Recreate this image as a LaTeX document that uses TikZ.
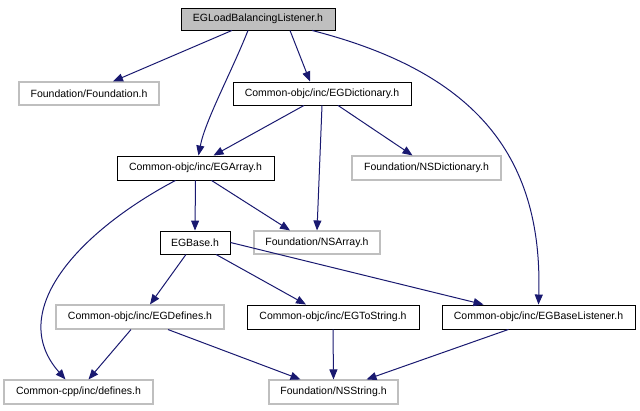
\documentclass[tikz,border=0pt]{standalone}
\usepackage{fontspec}
\setmainfont{Liberation Sans}
\usepackage{tikz}
\usetikzlibrary{arrows.meta, positioning, calc}

\definecolor{edgeblue}{HTML}{191970}
\definecolor{boxgray}{HTML}{BFBFBF}

\begin{document}
\begin{tikzpicture}[x=1pt, y=1pt,
	hfile/.style={draw=black, line width=0.9pt, inner sep=0pt, minimum height=23pt,
		font=\fontsize{10.5}{12}\selectfont},
	extfile/.style={hfile, draw=boxgray, line width=1.1pt},
	rootfile/.style={hfile, fill=boxgray},
	dep/.style={draw=edgeblue, line width=1pt, -{Triangle[length=10pt,width=8pt]}}]
					\useasboundingbox (0,0) rectangle (640,411);
					
					% Nodo principale
					\node[rootfile, minimum width=154pt, minimum height=22pt] (LBL) at (258,392) {EGLoadBalancingListener.h};
					
					% Primo livello
					\node[extfile, minimum width=140pt] (Fnd) at (89,317.5) {Foundation/Foundation.h};
					\node[hfile, minimum width=178pt] (Dict) at (322,317.5) {Common-objc/inc/EGDictionary.h};
					
					% Secondo livello
					\node[hfile, minimum width=157pt, minimum height=24pt] (Arr) at (195.5,243) {Common-objc/inc/EGArray.h};
					\node[extfile, minimum width=149pt, minimum height=24pt] (NSDict) at (426.5,243) {Foundation/NSDictionary.h};
					
					% Terzo livello
					\node[hfile, minimum width=70pt] (Base) at (195,168.5) {EGBase.h};
					\node[extfile, minimum width=126pt] (NSArr) at (317,168.5) {Foundation/NSArray.h};
					
					% Quarto livello
					\node[extfile, minimum width=168pt, minimum height=24pt] (Def) at (140,94) {Common-objc/inc/EGDefines.h};
					\node[hfile, minimum width=172pt, minimum height=24pt] (ToStr) at (333,94) {Common-objc/inc/EGToString.h};
					\node[hfile, minimum width=193pt, minimum height=24pt] (BLis) at (538.5,94) {Common-objc/inc/EGBaseListener.h};
					
					% Foglie
					\node[extfile, minimum width=149pt, minimum height=24pt] (CDef) at (78.5,19) {Common-cpp/inc/defines.h};
					\node[extfile, minimum width=129pt, minimum height=24pt] (NSStr) at (333.5,19) {Foundation/NSString.h};
					
					% Linee di connessione
					\draw[dep] ([xshift=-26pt]LBL.south) -- ([xshift=24pt]Fnd.north);
					\draw[dep] ([xshift=32pt]LBL.south) -- ([xshift=-12pt]Dict.north);
					\draw[dep] ([xshift=-10pt]LBL.south) .. controls (232,340) and (205,290) .. ([xshift=3pt]Arr.north);
					\draw[dep] ([xshift=54pt]LBL.south) .. controls (470,340) and (543,260) .. (BLis.north);
					
					\draw[dep] ([xshift=-18pt]Dict.south) -- ([xshift=18pt]Arr.north);
					\draw[dep] (Dict.south) -- (NSArr.north);
					\draw[dep] ([xshift=16pt]Dict.south) -- ([xshift=-14pt]NSDict.north);
					
					\draw[dep] (Arr.south) -- (Base.north);
					\draw[dep] ([xshift=16pt]Arr.south) -- ([xshift=-27pt]NSArr.north);
					\draw[dep] ([xshift=-20pt]Arr.south) .. controls (80,180) and (5,100) .. ([xshift=-13pt]CDef.north);
					
					\draw[dep] ([xshift=-9pt]Base.south) -- ([xshift=10pt]Def.north);
					\draw[dep] ([xshift=21pt]Base.south) -- ([xshift=-27pt]ToStr.north);
					\draw[dep] (Base.east) -- ([xshift=-55pt]BLis.north);
					
					\draw[dep] ([xshift=-9pt]Def.south) -- ([xshift=10pt]CDef.north);
					\draw[dep] ([xshift=28pt]Def.south) -- ([xshift=-33pt]NSStr.north);
					\draw[dep] (ToStr.south) -- (NSStr.north);
					\draw[dep] ([xshift=-30pt]BLis.south) -- ([xshift=33pt]NSStr.north);
				\end{tikzpicture}
\end{document}
